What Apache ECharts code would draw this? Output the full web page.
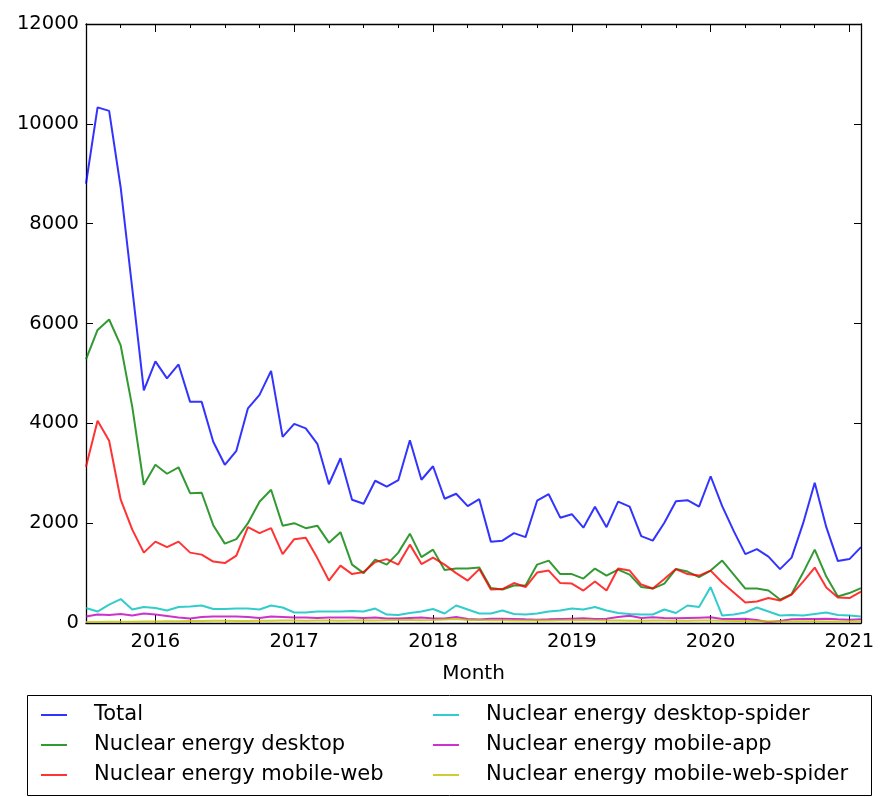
<!DOCTYPE html>
<html>
<head>
<meta charset="utf-8">
<script src="https://cdn.jsdelivr.net/npm/echarts@6/dist/echarts.min.js"></script>
<style>
html,body{margin:0;padding:0;background:#fff;}
#chart{width:889px;height:797px;}
</style>
</head>
<body>
<div id="chart"></div>
<script>
// Months 2015-07 .. 2021-02 (index 0..67)
const months = [
 '2015-07','2015-08','2015-09','2015-10','2015-11','2015-12',
 '2016-01','2016-02','2016-03','2016-04','2016-05','2016-06','2016-07','2016-08','2016-09','2016-10','2016-11','2016-12',
 '2017-01','2017-02','2017-03','2017-04','2017-05','2017-06','2017-07','2017-08','2017-09','2017-10','2017-11','2017-12',
 '2018-01','2018-02','2018-03','2018-04','2018-05','2018-06','2018-07','2018-08','2018-09','2018-10','2018-11','2018-12',
 '2019-01','2019-02','2019-03','2019-04','2019-05','2019-06','2019-07','2019-08','2019-09','2019-10','2019-11','2019-12',
 '2020-01','2020-02','2020-03','2020-04','2020-05','2020-06','2020-07','2020-08','2020-09','2020-10','2020-11','2020-12',
 '2021-01','2021-02'
];
const yearTickMonths = ['2016-01','2017-01','2018-01','2019-01','2020-01','2021-01'];
const yearTickLabels = ['2016','2017','2018','2019','2020','2021'];
const quarterTickMonths = ['2015-10','2016-04','2016-07','2016-10','2017-04','2017-07','2017-10',
 '2018-04','2018-07','2018-10','2019-04','2019-07','2019-10','2020-04','2020-07','2020-10'];

const total = [8800,10330,10260,8720,6700,4660,5240,4900,5180,4430,
 4430,3630,3170,3450,4300,4570,5050,3730,3990,3900,
 3590,2780,3300,2470,2390,2850,2730,2860,3660,2870,
 3140,2490,2590,2340,2480,1630,1650,1800,1720,2450,
 2580,2110,2180,1910,2330,1920,2430,2330,1740,1650,
 2010,2440,2460,2330,2940,2340,1840,1380,1480,1330,
 1080,1310,2000,2810,1920,1240,1280,1520];
const desktop = [5280,5870,6080,5560,4330,2770,3170,2990,3120,2600,
 2610,1960,1590,1680,2000,2430,2670,1950,2000,1900,
 1950,1610,1820,1170,1000,1270,1170,1410,1790,1320,
 1470,1060,1090,1090,1110,700,670,750,750,1170,
 1250,980,980,890,1090,950,1070,970,720,690,
 790,1080,1030,920,1050,1250,970,690,690,650,
 470,580,1010,1470,930,530,600,700];
const mobileWeb = [3130,4050,3650,2470,1870,1410,1630,1520,1630,1410,
 1370,1230,1200,1350,1920,1800,1900,1380,1680,1710,
 1300,850,1150,980,1020,1220,1280,1170,1570,1180,
 1310,1170,1000,850,1080,670,680,800,720,1010,
 1050,800,790,650,830,650,1090,1050,770,690,
 880,1080,980,950,1050,810,610,410,430,500,
 450,570,830,1110,710,510,500,630];
const desktopSpider = [300,230,370,480,270,320,300,250,320,330,
 350,280,280,290,290,270,350,310,210,210,
 230,230,230,240,230,290,170,160,200,230,
 280,190,350,270,190,190,250,180,170,190,
 230,250,290,270,320,250,200,180,170,170,
 270,200,350,320,720,150,170,210,310,230,
 150,160,150,180,210,160,150,130];
const mobileApp = [130,170,160,180,150,190,170,140,110,90,
 120,130,130,130,120,100,130,120,110,110,
 100,110,110,110,100,110,90,90,100,110,
 90,90,120,80,70,87,87,80,73,67,
 73,80,87,93,80,87,120,147,100,113,
 100,93,100,107,113,80,80,87,60,13,
 40,73,80,80,87,73,67,73];
const mobileWebSpider = [20,20,25,25,25,30,30,35,35,40,
 40,45,45,40,40,45,45,50,50,45,
 50,50,45,50,55,50,55,60,60,55,
 60,70,80,60,60,55,55,50,50,55,
 50,55,55,60,55,50,50,45,45,50,
 50,45,45,50,50,45,40,40,35,35,
 30,30,35,35,30,30,30,30];

const seriesNames = ['Total','Nuclear energy desktop','Nuclear energy mobile-web',
 'Nuclear energy desktop-spider','Nuclear energy mobile-app','Nuclear energy mobile-web-spider'];
const seriesValues = [total, desktop, mobileWeb, desktopSpider, mobileApp, mobileWebSpider];
const seriesColors = ['rgba(0,0,255,0.8)','rgba(0,128,0,0.8)','rgba(255,0,0,0.8)',
 'rgba(0,191,191,0.8)','rgba(191,0,191,0.8)','rgba(191,191,0,0.8)'];

const FONT = 'DejaVu Sans';
const idx = m => months.indexOf(m);
const majorX = yearTickMonths.map(idx);
const minorX = quarterTickMonths.map(idx);
const lastX = months.length - 1;

function xAx(pos, ticks, len, showLine, labels, name) {
  return {
    type: 'value', position: pos, min: 0, max: lastX,
    splitLine: {show: false},
    axisLine: {show: showLine, onZero: false, lineStyle: {color: '#000', width: 1.3}},
    axisTick: {show: true, inside: true, length: len, customValues: ticks, lineStyle: {color: '#000', width: 1}},
    axisLabel: labels ? {
      show: true, customValues: majorX, margin: 9,
      fontFamily: FONT, fontSize: 19.5, color: '#000',
      formatter: v => yearTickLabels[majorX.indexOf(Math.round(v))] || ''
    } : {show: false},
    name: name || '', nameLocation: 'middle', nameGap: 41,
    nameTextStyle: {fontFamily: FONT, fontSize: 20, color: '#000'}
  };
}
function yAx(pos, labels) {
  return {
    type: 'value', position: pos, min: 0, max: 12000, interval: 2000,
    splitLine: {show: false},
    axisLine: {show: true, onZero: false, lineStyle: {color: '#000', width: 1.3}},
    axisTick: {show: true, inside: true, length: 7, lineStyle: {color: '#000', width: 1}},
    axisLabel: labels ? {show: true, margin: 7, fontFamily: FONT, fontSize: 19.5, color: '#000',
      formatter: v => String(v)} : {show: false}
  };
}

const chart = echarts.init(document.getElementById('chart'), null, {renderer: 'canvas'});
const legendText = {fontFamily: FONT, fontSize: 21, color: '#000', lineHeight: 22, padding: [0,0,0,22]};
chart.setOption({
  animation: false,
  backgroundColor: '#fff',
  grid: {left: 86, right: 28, top: 24, bottom: 174, containLabel: false},
  xAxis: [
    xAx('bottom', majorX, 8, true, true, 'Month'),
    xAx('bottom', minorX, 4, false, false),
    xAx('top', majorX, 8, true, false),
    xAx('top', minorX, 4, false, false)
  ],
  yAxis: [yAx('left', true), yAx('right', false)],
  legend: [
    {data: seriesNames.slice(0,3), orient: 'vertical', left: 41, top: 704, padding: 0,
     icon: 'rect', itemWidth: 26, itemHeight: 2, itemGap: 8, textStyle: legendText},
    {data: seriesNames.slice(3), orient: 'vertical', left: 433, top: 704, padding: 0,
     icon: 'rect', itemWidth: 26, itemHeight: 2, itemGap: 8, textStyle: legendText}
  ],
  graphic: [{type: 'rect', shape: {x: 27.5, y: 695.5, width: 844, height: 100},
    style: {fill: 'none', stroke: '#000', lineWidth: 1}, silent: true}],
  series: seriesNames.map((n, k) => ({
    name: n, type: 'line', xAxisIndex: 0, yAxisIndex: 0,
    data: seriesValues[k].map((v, i) => [idx(months[i]), v]),
    showSymbol: false, symbol: 'none',
    lineStyle: {color: seriesColors[k], width: 2},
    itemStyle: {color: seriesColors[k]}
  }))
});
</script>
</body>
</html>
